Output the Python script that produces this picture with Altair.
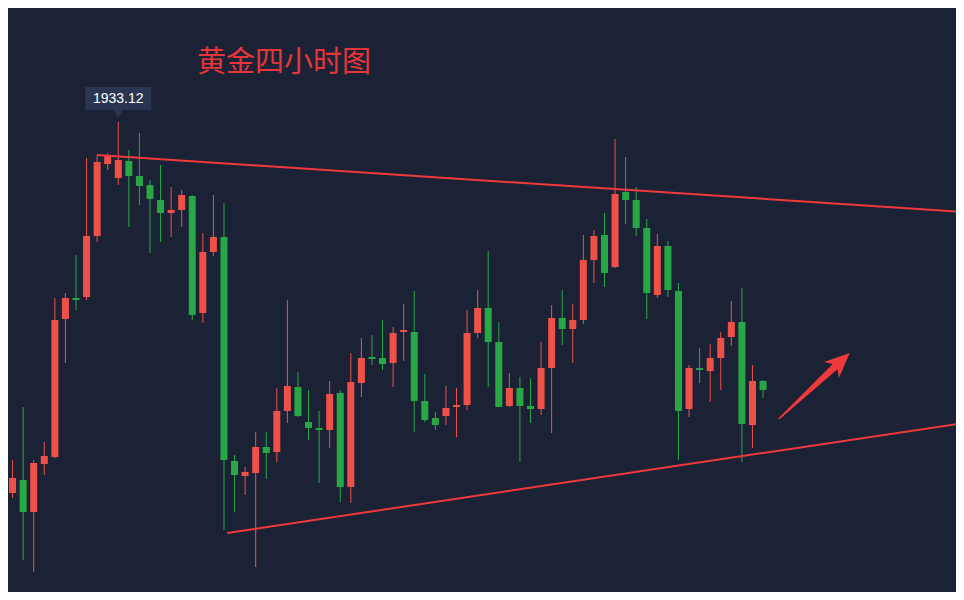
import altair as alt
import pandas as pd

# ---- candle data (4h gold) ----
opens = [1891.02, 1896.02, 1897.32, 1894.12, 1898.92, 1899.62, 1913.42, 1915.52, 1915.62, 1921.72,
         1928.92, 1927.52, 1929.22, 1927.72, 1926.82, 1925.32, 1924.02, 1924.32, 1925.72, 1914.02,
         1920.12, 1921.62, 1899.22, 1897.72, 1898.02, 1900.62, 1900.12, 1904.22, 1906.62, 1903.12,
         1902.52, 1902.32, 1906.02, 1896.62, 1907.02, 1909.62, 1909.52, 1909.02, 1912.12, 1912.12,
         1905.22, 1903.52, 1903.72, 1904.62, 1904.82, 1912.02, 1914.52, 1911.12, 1904.72, 1906.52,
         1904.72, 1904.42, 1908.52, 1913.52, 1912.42, 1913.32, 1919.32, 1921.82, 1918.62, 1926.12,
         1925.32, 1922.52, 1915.82, 1920.72, 1916.22, 1904.42, 1908.52, 1908.22, 1909.52, 1911.62,
         1913.12, 1902.82, 1907.22]
highs = [1900.02, 1899.32, 1904.62, 1899.32, 1901.12, 1915.52, 1916.02, 1919.82, 1929.52, 1929.82,
         1930.02, 1933.12, 1930.32, 1932.02, 1927.32, 1928.82, 1926.62, 1926.32, 1925.82, 1922.02,
         1925.82, 1925.02, 1899.82, 1898.62, 1902.12, 1902.12, 1906.52, 1915.32, 1908.12, 1906.32,
         1904.22, 1907.22, 1906.32, 1910.02, 1911.52, 1911.82, 1913.32, 1912.62, 1914.92, 1916.22,
         1907.92, 1904.12, 1906.72, 1906.52, 1914.32, 1916.32, 1920.22, 1913.12, 1908.02, 1907.62,
         1907.52, 1911.12, 1914.82, 1916.32, 1914.92, 1921.82, 1922.32, 1924.02, 1931.42, 1929.62,
         1926.62, 1923.42, 1921.92, 1921.22, 1917.02, 1908.82, 1910.52, 1910.92, 1912.12, 1915.22,
         1916.52, 1908.82, 1907.32]
lows = [1890.52, 1895.52, 1889.32, 1888.12, 1897.82, 1899.52, 1909.02, 1914.32, 1915.32, 1921.12,
        1928.32, 1926.82, 1922.62, 1924.82, 1920.02, 1921.12, 1921.62, 1922.62, 1913.32, 1913.02,
        1919.72, 1892.32, 1894.12, 1895.82, 1888.62, 1897.42, 1899.12, 1903.02, 1903.62, 1901.32,
        1897.02, 1900.52, 1895.12, 1895.02, 1905.62, 1908.82, 1908.32, 1906.62, 1909.22, 1902.12,
        1903.12, 1902.32, 1902.82, 1901.62, 1904.32, 1911.52, 1906.62, 1904.62, 1904.62, 1899.12,
        1903.02, 1903.82, 1902.02, 1910.82, 1909.02, 1912.92, 1917.02, 1916.62, 1918.52, 1922.92,
        1921.72, 1913.42, 1915.52, 1915.62, 1899.32, 1903.62, 1907.02, 1905.12, 1906.32, 1910.72,
        1899.12, 1900.52, 1905.52]
closes = [1896.02, 1897.52, 1894.12, 1899.02, 1899.72, 1913.32, 1915.52, 1915.32, 1921.72, 1929.12,
          1929.72, 1929.32, 1927.72, 1926.72, 1925.42, 1924.02, 1924.32, 1925.82, 1913.82, 1920.12,
          1921.62, 1899.32, 1897.82, 1898.12, 1900.62, 1900.02, 1904.22, 1906.72, 1903.72, 1902.52,
          1902.32, 1905.92, 1896.62, 1907.12, 1909.52, 1909.42, 1908.92, 1912.02, 1912.32, 1905.22,
          1903.32, 1902.82, 1904.52, 1904.82, 1912.02, 1914.52, 1911.12, 1904.62, 1906.52, 1904.72,
          1904.42, 1908.52, 1913.52, 1912.42, 1913.32, 1919.32, 1921.72, 1918.02, 1925.92, 1925.32,
          1922.52, 1916.02, 1920.72, 1916.32, 1904.22, 1908.52, 1908.32, 1909.52, 1911.52, 1913.12,
          1902.92, 1907.22, 1906.32]
bars = list(range(1, len(opens) + 1))

# ---- annotations ----
trend_names = ["upper", "upper", "lower", "lower"]
trend_bars = [10, 92, 22.3, 92]
trend_prices = [1929.82, 1924.12, 1892.02, 1903.02]
arrow_bar = [81.2]
arrow_price = [1910.02]
peak_bar = [12]
peak_price = [1933.12]
title_text = "黄金四小时图"

UP = "#ef5148"
DOWN = "#28a845"
LINE = "#f0393c"
BG = "#1c2235"

df = pd.DataFrame({"bar": bars, "open": opens, "high": highs, "low": lows, "close": closes})
df["dir"] = ["up" if c >= o else "down" for o, c in zip(opens, closes)]
trend_df = pd.DataFrame({"name": trend_names, "bar": trend_bars, "price": trend_prices})
arrow_df = pd.DataFrame({"bar": arrow_bar, "price": arrow_price})
peak_df = pd.DataFrame({"bar": peak_bar, "price": peak_price})

xs = alt.Scale(domain=[1.5676, 91.256], nice=False, zero=False, padding=0)
ys = alt.Scale(domain=[1886.12, 1944.52], nice=False, zero=False, padding=0)
color = alt.Color("dir:N", scale=alt.Scale(domain=["up", "down"], range=[UP, DOWN]), legend=None)

base = alt.Chart(df).encode(x=alt.X("bar:Q", scale=xs, axis=None))
wicks = base.mark_rule(strokeWidth=1, clip=True).encode(
    y=alt.Y("low:Q", scale=ys, axis=None), y2="high:Q", color=color)
bodies = base.mark_bar(width=7, clip=True).encode(
    y=alt.Y("open:Q", scale=ys, axis=None), y2="close:Q", color=color)

trend = alt.Chart(trend_df).mark_line(color=LINE, strokeWidth=2, clip=True).encode(
    x=alt.X("bar:Q", scale=xs, axis=None),
    y=alt.Y("price:Q", scale=ys, axis=None),
    detail="name:N")

arrow_path = ("M0,0 L-10.8,25.1 L-12.2,16.2 L-70.5,66.5 L-71.5,65.5 "
              "L-17.0,11.0 L-25.8,8.9 Z")
arrow = alt.Chart(arrow_df).mark_point(
    shape=arrow_path, size=4, filled=True, color=LINE, opacity=1, strokeWidth=0).encode(
    x=alt.X("bar:Q", scale=xs, axis=None),
    y=alt.Y("price:Q", scale=ys, axis=None))

callout_path = "M-33,-35 L33,-35 L33,-12 L5,-12 L0,-5 L-5,-12 L-33,-12 Z"
callout = alt.Chart(peak_df).mark_point(
    shape=callout_path, size=4, filled=True, color="#2a3552", opacity=1, strokeWidth=0).encode(
    x=alt.X("bar:Q", scale=xs, axis=None),
    y=alt.Y("price:Q", scale=ys, axis=None))
callout_text = alt.Chart(peak_df).mark_text(
    color="#ffffff", fontSize=14, font="Liberation Sans", dy=-23, baseline="middle",
    align="center").encode(
    x=alt.X("bar:Q", scale=xs, axis=None),
    y=alt.Y("price:Q", scale=ys, axis=None),
    text=alt.Text("price:Q", format=".2f"))

title = alt.Chart(pd.DataFrame({"t": [title_text]})).mark_text(
    color="#e8353a", fontSize=29, font="Noto Sans CJK SC", align="left",
    baseline="middle").encode(x=alt.value(189), y=alt.value(54.5), text="t:N")

chart = alt.layer(wicks, bodies, trend, arrow, callout, callout_text, title).properties(
    width=948, height=584, padding=0, autosize=alt.AutoSizeParams(type="none"),
    background=BG
).configure_view(stroke=None)

chart.save("out.html", embed_options={"renderer": "svg", "actions": False})
